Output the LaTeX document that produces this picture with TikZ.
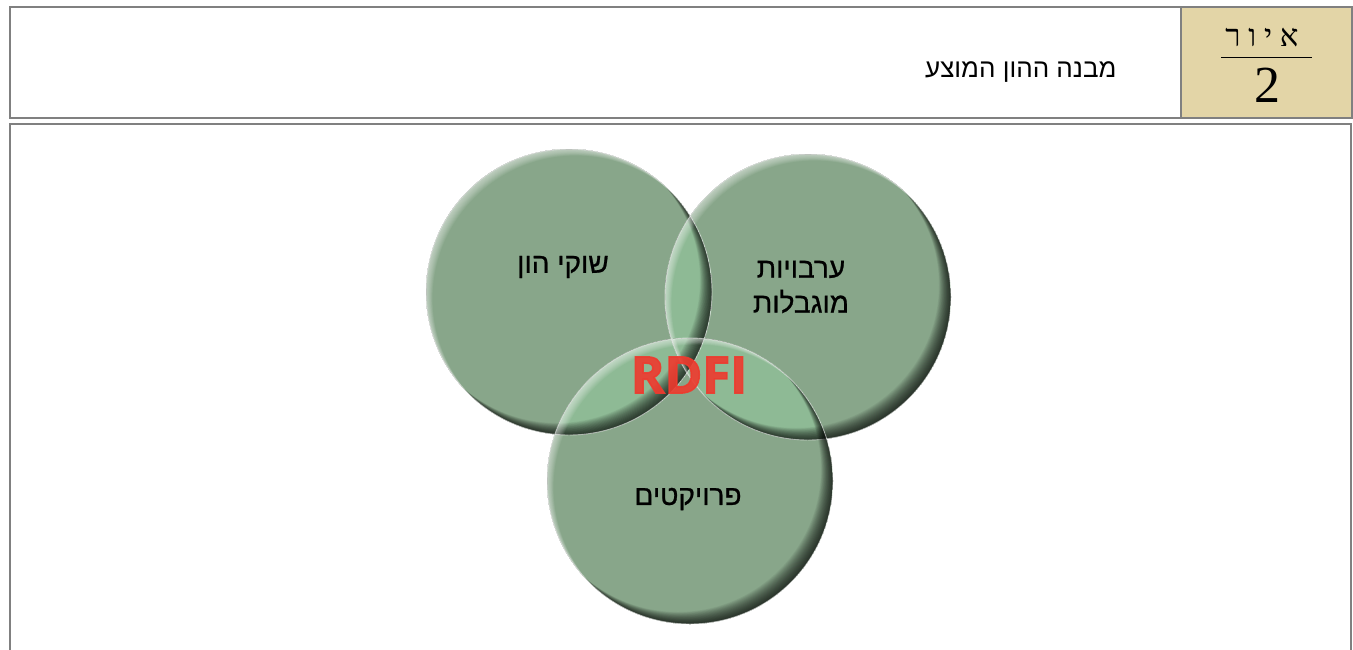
\documentclass[tikz,border=0pt]{standalone}
\usepackage{fontspec}
\TeXXeTstate=1
\newfontfamily\hebsans[Script=Hebrew,FakeBold=0.8]{Liberation Sans}
\newfontfamily\hebtitle[Script=Hebrew]{Liberation Sans}
\newfontfamily\hebserif[Script=Hebrew,LetterSpace=25]{Liberation Serif}
\newfontfamily\numserif{Liberation Serif}
\newfontfamily\rdfifont[BoldFeatures={FakeBold=3}]{Open Sans}
\definecolor{frameclr}{HTML}{808080}
\definecolor{beige}{HTML}{E3D5A7}
\definecolor{circclr}{HTML}{88A68A}
\definecolor{ovlclr}{HTML}{8EBA95}
\definecolor{rdficlr}{HTML}{EE3A2E}
\tikzset{
  frame/.style={draw=frameclr, line width=1.3pt},
  ctext/.style={font=\hebsans\fontsize{28}{35}\selectfont, text=black, align=center},
  shadowring/.style={black, opacity=0.05, even odd rule},
  lightring/.style={white, opacity=0.06, even odd rule},
  rim/.style={draw=white, opacity=0.5, line width=0.9pt}
}
\newcommand{\Rad}{143}
\begin{document}
\begin{tikzpicture}[x=1pt,y=-1pt]
\useasboundingbox (0,0) rectangle (1353,649);
\fill[white] (0,0) rectangle (1353,649);
% header
\draw[frame] (10,7) rectangle (1352,118);
\filldraw[fill=beige, frame] (1181,7) rectangle (1352,118);
\node[font=\hebtitle\fontsize{26}{30}\selectfont, anchor=east] (title) at (1120,72) {\beginR מבנה ההון המוצע\endR};
\node[font=\hebserif\fontsize{31}{34}\selectfont] (fig) at (1262,38) {\beginR איור\endR};
\coordinate (fl) at (1221,57);
\coordinate (fr) at (1312,57);
\draw[line width=1pt] (fl) -- (fr);
\node[font=\numserif\fontsize{52}{56}\selectfont] (num) at (1267,85) {2};
% lower frame
\coordinate (b1) at (10,660);
\coordinate (b2) at (10,124);
\coordinate (b3) at (1351,124);
\coordinate (b4) at (1351,660);
\draw[frame] (b1) -- (b2) -- (b3) -- (b4);
% circles
\coordinate (cL) at (569,292);
\coordinate (cR) at (808,297);
\coordinate (cB) at (690,481);
\foreach \c in {cL,cR,cB} {\fill[circclr] (\c) circle (\Rad);}
% overlaps
\begin{scope}
  \clip (cL) circle (\Rad);
  \fill[ovlclr] (cR) circle (\Rad);
  \fill[ovlclr] (cB) circle (\Rad);
\end{scope}
\begin{scope}
  \clip (cR) circle (\Rad);
  \fill[ovlclr] (cB) circle (\Rad);
\end{scope}
% shading
\foreach \c in {cL,cR,cB} {
  \begin{scope}
    \clip (\c) circle (\Rad);
    \foreach \d in {0.6,1.2,...,12} {
      \fill[shadowring] (\c) circle (\Rad) ([shift={(-\d,-\d)}]\c) circle (\Rad);
    }
    \foreach \d in {0.6,1.2,...,7} {
      \fill[lightring] (\c) circle (\Rad) ([shift={(\d,\d)}]\c) circle (\Rad);
    }
  \end{scope}
  \draw[rim] (\c) circle (\Rad);
}
% texts
\node[ctext] (tL) at (563,267) {\beginR שוקי הון\endR};
\node[ctext] (tR) at (801,287) {\beginR ערבויות\endR\\\beginR מוגבלות\endR};
\node[ctext] (tB) at (688,499) {\beginR פרויקטים\endR};
\node[font=\rdfifont\bfseries\fontsize{51}{56}\selectfont, text=rdficlr, text opacity=0.9] (rdfi) at (689,375) {RDFI};
\end{tikzpicture}
\end{document}
